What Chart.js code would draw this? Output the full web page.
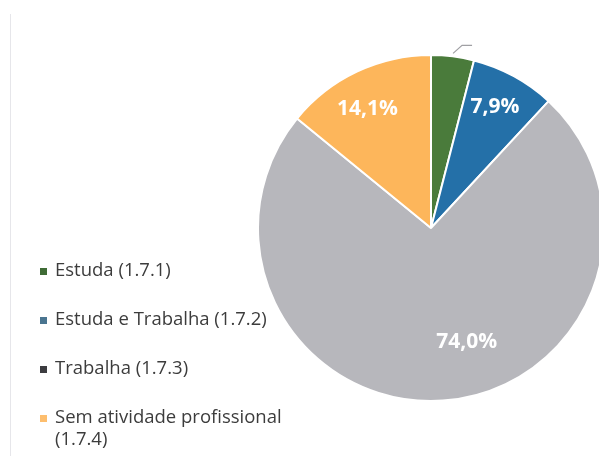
<!DOCTYPE html>
<html lang="pt">
<head>
  <meta charset="UTF-8" />
  <title>Situação profissional</title>
  <script src="https://cdn.jsdelivr.net/npm/chart.js"></script>
  <style>
    html, body {
      margin: 0;
      padding: 0;
      background: #fff;
      overflow: hidden;
    }
    .wrap {
      position: relative;
      width: 599px;
      height: 456px;
    }
    .wrap::before {
      content: '';
      position: absolute;
      left: 10px;
      top: 14px;
      bottom: 0;
      border-left: 1px solid #e6e6ea;
    }
  </style>
</head>
<body>
  <div class="wrap">
    <canvas id="pie" width="599" height="456"></canvas>
  </div>

  <script>
    const categories = ['Estuda (1.7.1)', 'Estuda e Trabalha (1.7.2)', 'Trabalha (1.7.3)', 'Sem atividade profissional (1.7.4)'];
    const values = [4.0, 7.9, 74.0, 14.1];
    const valueLabels = ['', '7,9%', '74,0%', '14,1%'];

    const sliceColors = ['#4a7b3b', '#2470a8', '#b7b7bc', '#fdb65b'];
    const legendColors = ['#3f6b35', '#4a7590', '#3c3c40', '#fdbe6e'];

    // labels inside the slices, plus the leader line of the small one
    const sliceLabels = {
      id: 'sliceLabels',
      afterDatasetsDraw(chart) {
        const ctx = chart.ctx;
        const arcs = chart.getDatasetMeta(0).data;
        const radiusFactor = [1, 0.8, 0.68, 0.79];
        const angleShift = [0, -0.02, -0.24, -0.04];
        ctx.save();
        arcs.forEach((arc, i) => {
          const { x, y, startAngle, endAngle, outerRadius } = arc.getProps(['x', 'y', 'startAngle', 'endAngle', 'outerRadius'], true);
          const mid = (startAngle + endAngle) / 2 + angleShift[i];
          if (!valueLabels[i]) {
            const px = x + Math.cos(mid) * (outerRadius + 3);
            const py = y + Math.sin(mid) * (outerRadius + 3);
            ctx.strokeStyle = '#a0a0a4';
            ctx.lineWidth = 1.2;
            ctx.beginPath();
            ctx.moveTo(px, py);
            ctx.lineTo(px + 9, py - 8);
            ctx.lineTo(px + 19, py - 8);
            ctx.stroke();
            return;
          }
          const r = outerRadius * radiusFactor[i];
          ctx.fillStyle = '#ffffff';
          ctx.font = 'bold 21px "Open Sans", sans-serif';
          ctx.textAlign = 'center';
          ctx.textBaseline = 'middle';
          ctx.fillText(valueLabels[i], x + Math.cos(mid) * r, y + Math.sin(mid) * r + 2);
        });
        ctx.restore();
      }
    };

    // legend on the left, last entry wraps to two lines
    const sideLegend = {
      id: 'sideLegend',
      afterDraw(chart) {
        const ctx = chart.ctx;
        const rows = [['Estuda (1.7.1)'], ['Estuda e Trabalha (1.7.2)'], ['Trabalha (1.7.3)'], ['Sem atividade profissional', '(1.7.4)']];
        const top = 271;
        const step = 49;
        ctx.save();
        ctx.font = '18.5px "Open Sans", sans-serif';
        ctx.textBaseline = 'middle';
        ctx.textAlign = 'left';
        rows.forEach((lines, i) => {
          const y = top + i * step;
          ctx.fillStyle = legendColors[i];
          ctx.fillRect(40, y - 3, 7, 7);
          ctx.fillStyle = '#3c3c3c';
          lines.forEach((t, j) => ctx.fillText(t, 55, y + j * 22));
        });
        ctx.restore();
      }
    };

    new Chart(document.getElementById('pie'), {
      type: 'pie',
      data: {
        labels: categories,
        datasets: [{
          data: values,
          backgroundColor: sliceColors,
          borderColor: '#ffffff',
          borderWidth: 2
        }]
      },
      options: {
        responsive: false,
        animation: false,
        radius: 173,
        layout: { padding: { left: 263, right: 0, top: 0, bottom: 0 } },
        plugins: {
          legend: { display: false },
          tooltip: { enabled: false }
        }
      },
      plugins: [sliceLabels, sideLegend]
    });
  </script>
</body>
</html>
